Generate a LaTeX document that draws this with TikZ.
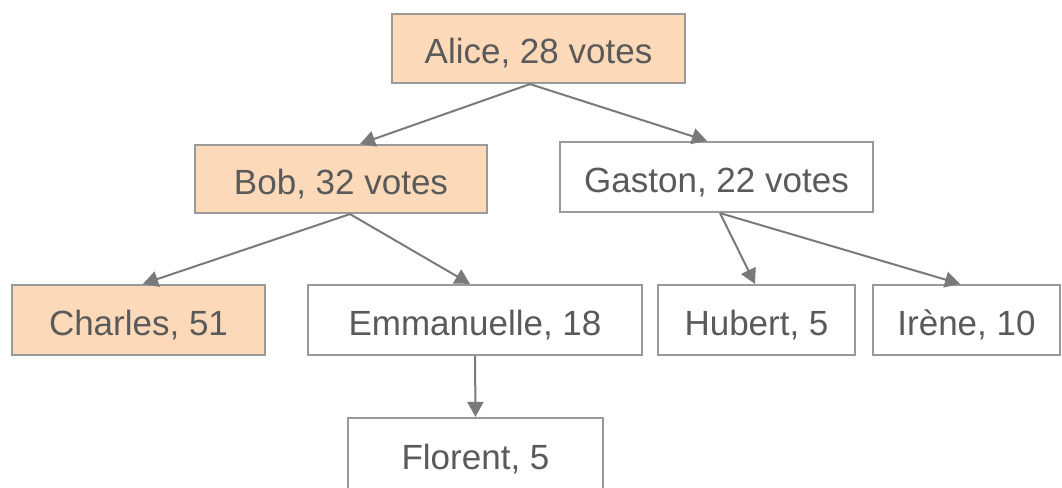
\documentclass[tikz,border=0pt]{standalone}
\usepackage{fontspec}
\setmainfont{Liberation Sans}
\usetikzlibrary{arrows.meta}
\definecolor{peach}{HTML}{FCD9B8}
\definecolor{edge}{HTML}{9A9A9A}
\definecolor{txt}{HTML}{5A5A5A}
\definecolor{arrowc}{HTML}{7A7A7A}
\tikzset{
  box/.style={draw=edge, line width=2.2pt, fill=white, text=txt, inner sep=0pt,
    font=\fontsize{35}{38}\selectfont, minimum height=69pt, text height=31pt, text depth=0pt},
  hl/.style={box, fill=peach},
  arr/.style={draw=arrowc, line width=2pt, -{Triangle[length=15pt,width=16pt]}}
}
\begin{document}
\begin{tikzpicture}[x=1pt,y=1pt]
\useasboundingbox (0,0) rectangle (1062,487);
\clip (0,0) rectangle (1062,487);
\node[hl, minimum width=293pt] (alice) at (538.5,438.5) {Alice, 28 votes};
\node[hl, minimum width=292pt, minimum height=68pt] (bob) at (341,308) {Bob, 32 votes};
\node[box, minimum width=313pt, minimum height=70pt] (gaston) at (716.5,310) {Gaston, 22 votes};
\node[hl, minimum width=253pt, minimum height=70pt] (charles) at (138.5,167) {Charles, 51};
\node[box, minimum width=334pt, minimum height=70pt] (emma) at (475,167) {Emmanuelle, 18};
\node[box, minimum width=197pt, minimum height=70pt] (hubert) at (756.5,167) {Hubert, 5};
\node[box, minimum width=187pt, minimum height=70pt] (irene) at (966.5,167) {Irène, 10};
\node[box, minimum width=255pt, minimum height=72pt] (florent) at (475.5,33) {Florent, 5};
\draw[arr] ([xshift=-8.5pt]alice.south) -- ([xshift=19pt]bob.north);
\draw[arr] ([xshift=-8.5pt]alice.south) -- ([xshift=-9.5pt]gaston.north);
\draw[arr] ([xshift=9pt]bob.south) -- ([xshift=4.5pt]charles.north);
\draw[arr] ([xshift=9pt]bob.south) -- ([xshift=-5pt]emma.north);
\draw[arr] ([xshift=3.5pt]gaston.south) -- ([xshift=-1.5pt]hubert.north);
\draw[arr] ([xshift=3.5pt]gaston.south) -- ([xshift=-6.5pt]irene.north);
\draw[arr] (emma.south) -- (florent.north);
\end{tikzpicture}
\end{document}
